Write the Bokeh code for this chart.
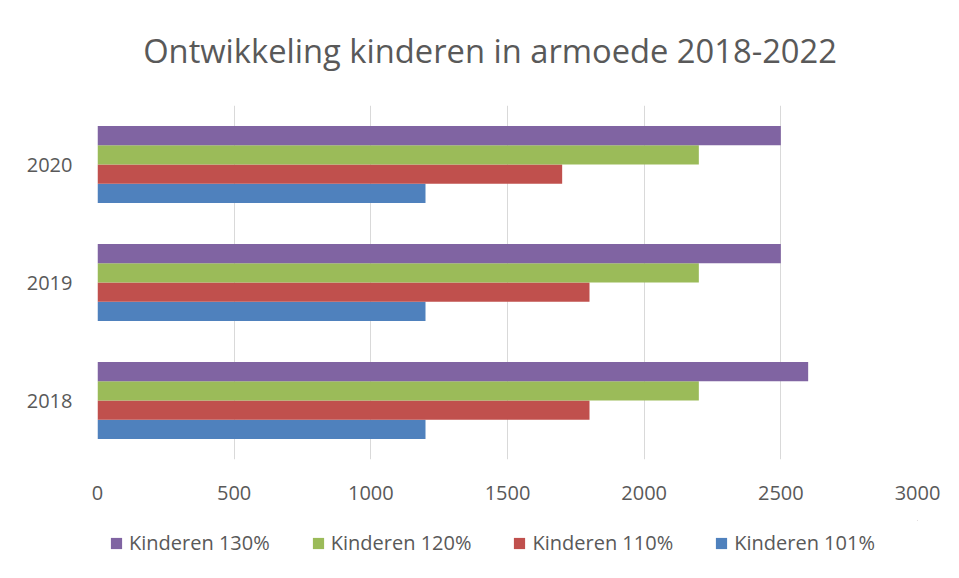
from bokeh.plotting import figure
from bokeh.models import ColumnDataSource, FactorRange, Range1d, Legend, LegendItem, FixedTicker, Label
from bokeh.layouts import column
from bokeh.transform import dodge
from bokeh.embed import file_html
from bokeh.resources import INLINE

years = ["2018", "2019", "2020"]
k101 = [1200, 1200, 1200]
k110 = [1800, 1800, 1700]
k120 = [2200, 2200, 2200]
k130 = [2600, 2500, 2500]
series_names = ["Kinderen 101%", "Kinderen 110%", "Kinderen 120%", "Kinderen 130%"]
x_ticks = [0, 500, 1000, 1500, 2000, 2500, 3000]
title_text = "Ontwikkeling kinderen in armoede 2018-2022"

colors = ["#4F81BD", "#C0504D", "#9BBB59", "#8064A2"]
offsets = [-0.245, -0.0817, 0.0817, 0.245]

src = ColumnDataSource(dict(year=years, k101=k101, k110=k110, k120=k120, k130=k130))

FONT = "Open Sans"
GREY = "#595959"


def strip(height):
    f = figure(width=943, height=height, x_range=Range1d(0, 1), y_range=Range1d(0, 1),
               x_axis_type=None, y_axis_type=None, output_backend="svg",
               toolbar_location=None, min_border=0)
    f.outline_line_color = None
    f.grid.grid_line_color = None
    return f


# title strip (frames are aligned with the main plot by the column layout)
pt = strip(80)
pt.add_layout(Label(x=0.4787, y=0.375, text=title_text, text_align="center",
                    text_baseline="middle", text_font=FONT, text_font_size="32.7px",
                    text_color=GREY))

p = figure(y_range=FactorRange(factors=years), x_range=Range1d(0, 3000),
           width=943, height=440, output_backend="svg", toolbar_location=None,
           min_border_left=97, min_border_right=26, min_border_top=25, min_border_bottom=61)

for col, off, c in zip(["k101", "k110", "k120", "k130"], offsets, colors):
    p.hbar(y=dodge("year", off, range=p.y_range), left=0, right=col, height=0.1635,
           source=src, fill_color=c, line_color=None)

p.xaxis.ticker = FixedTicker(ticks=x_ticks)
for ax in (p.xaxis, p.yaxis):
    ax.axis_line_color = None
    ax.major_tick_line_color = None
    ax.minor_tick_line_color = None
    ax.major_label_text_font = FONT
    ax.major_label_text_font_size = "20px"
    ax.major_label_text_color = GREY
p.xaxis.major_label_standoff = 20
p.yaxis.major_label_standoff = 19

p.ygrid.grid_line_color = None
p.xgrid.grid_line_color = "#d9d9d9"
p.xgrid.grid_line_width = 1
p.outline_line_color = None

# legend strip below the chart
pl = strip(50)
dummy = []
for c in colors:
    # swatch renderers for the legend only; their single bar lies outside the visible range
    dummy.append(pl.hbar(y=[5], left=[5], right=[6], height=0.1, fill_color=c, line_color=None))

items = [LegendItem(label=series_names[i], renderers=[dummy[i]]) for i in [3, 2, 1, 0]]
legend = Legend(items=items, orientation="horizontal", location=(12, 14),
                glyph_width=14, glyph_height=14, label_standoff=6, spacing=41,
                padding=0, margin=0,
                label_text_font=FONT, label_text_font_size="20px", label_text_color=GREY,
                border_line_color=None, background_fill_alpha=0)
pl.add_layout(legend, "center")

layout = column(pt, p, pl, spacing=0)
open("out.html", "w").write(file_html(layout, INLINE))
